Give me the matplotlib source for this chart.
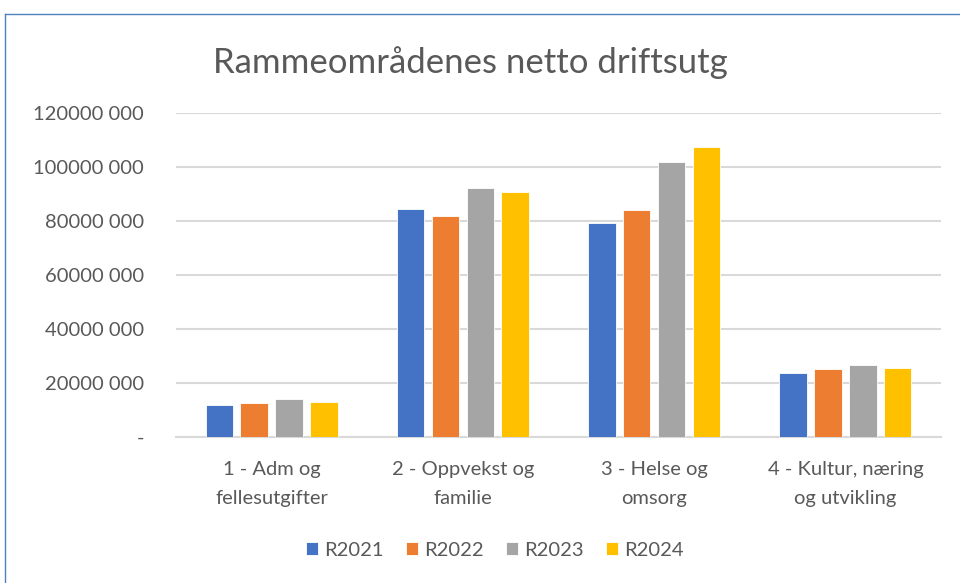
import numpy as np
import matplotlib
matplotlib.use("Agg")
import matplotlib.pyplot as plt
from matplotlib.lines import Line2D
from matplotlib.ticker import FuncFormatter

categories = ["1 - Adm og\nfellesutgifter", "2 - Oppvekst og\nfamilie",
              "3 - Helse og\nomsorg", "4 - Kultur, næring\nog utvikling"]
series = ["R2021", "R2022", "R2023", "R2024"]
r2021 = [11.9e6, 84.4e6, 79.3e6, 23.6e6]
r2022 = [12.5e6, 81.7e6, 84.2e6, 25.2e6]
r2023 = [14.1e6, 92.2e6, 101.7e6, 26.7e6]
r2024 = [13.1e6, 90.7e6, 107.3e6, 25.4e6]
yticks = [0, 20e6, 40e6, 60e6, 80e6, 100e6, 120e6]

colors = ["#4472C4", "#ED7D31", "#A5A5A5", "#FFC000"]
text_col = "#595959"
plt.rcParams["font.family"] = ["Lato", "DejaVu Sans"]


def fmt(v, pos):
    if v == 0:
        return "-"
    v = int(round(v))
    return f"{v // 1000}" + " " + f"{v % 1000:03d}"


fig = plt.figure(figsize=(9.6, 5.83), dpi=100)
ax = fig.add_axes([176 / 960, 1 - 437 / 583, (941 - 176) / 960, (437 - 113) / 583])

x = np.arange(len(categories))
step = 0.182
width = 0.144
for i, (name, vals) in enumerate(zip(series, [r2021, r2022, r2023, r2024])):
    ax.bar(x + (i - 1.5) * step, vals, width, color=colors[i], label=name,
           edgecolor="white", linewidth=0.6, zorder=3)

ax.set_xlim(-0.5, len(categories) - 0.5)
ax.set_ylim(0, 120e6)
ax.set_yticks(yticks)
ax.yaxis.set_major_formatter(FuncFormatter(fmt))
ax.set_xticks(x)
ax.set_xticklabels(categories, linespacing=1.9)
ax.tick_params(axis="y", length=0, pad=23, labelsize=14.5, labelcolor=text_col)
ax.tick_params(axis="x", length=0, pad=17, labelsize=14.5, labelcolor=text_col)
ax.grid(axis="y", color="#D9D9D9", linewidth=1.5, zorder=0)
for s in ["top", "right", "left"]:
    ax.spines[s].set_visible(False)
ax.spines["bottom"].set_color("#D9D9D9")
ax.spines["bottom"].set_linewidth(1.5)

fig.text(470 / 960, 1 - 63 / 583, "Rammeområdenes netto driftsutg",
         ha="center", va="center", fontsize=25, color=text_col)

handles, labels = ax.get_legend_handles_labels()
fig.legend(handles, labels, loc="center", bbox_to_anchor=(495 / 960, 1 - 550 / 583),
           ncol=4, frameon=False, fontsize=14.5, labelcolor=text_col,
           handlelength=0.6, handleheight=0.6, handletextpad=0.3, columnspacing=1.1)

# chart border
border = "#4F81BD"
fig.add_artist(Line2D([5 / 960, 5 / 960], [0, 1 - 14 / 583], color=border, linewidth=1))
fig.add_artist(Line2D([5 / 960, 1], [1 - 14 / 583, 1 - 14 / 583], color=border, linewidth=1))

fig.savefig("out.png", dpi=100)
